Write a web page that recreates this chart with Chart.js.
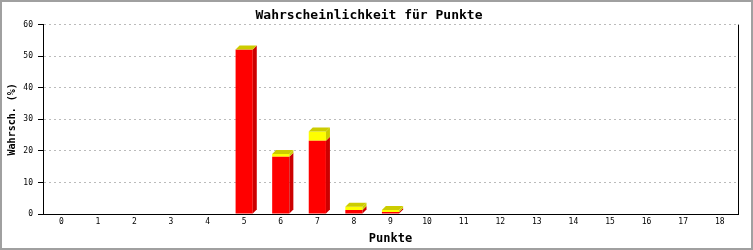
<!DOCTYPE html>
<html>
<head>
<meta charset="utf-8">
<script src="https://cdn.jsdelivr.net/npm/chart.js@4/dist/chart.umd.min.js"></script>
<style>
  html, body { margin: 0; padding: 0; background: #fff; }
  #wrap { width: 753px; height: 250px; position: relative; }
</style>
</head>
<body>
<div id="wrap"><canvas id="pointsChart"></canvas></div>
<script>
// Punkte 0..18
const points = ['0','1','2','3','4','5','6','7','8','9','10','11','12','13','14','15','16','17','18'];
const redValues    = [0, 0, 0, 0, 0, 52.1, 18.1, 23.2, 1.3, 0.6, 0, 0, 0, 0, 0, 0, 0, 0, 0];
const yellowValues = [0, 0, 0, 0, 0, 0,    0.9,  2.9,  1.0, 0.7, 0, 0, 0, 0, 0, 0, 0, 0, 0];
const yTicks = [0, 10, 20, 30, 40, 50, 60];

const mono = '"DejaVu Sans Mono", "Liberation Mono", monospace';
const DEPTH = 4;

// fake 3D: side and top faces next to each stacked bar
const bar3d = {
    id: 'bar3d',
    afterDatasetsDraw(chart) {
        const ctx = chart.ctx;
        const sides = ['#cc0000', '#cccc00'];
        ctx.save();
        chart.data.datasets.forEach((ds, di) => {
            const meta = chart.getDatasetMeta(di);
            meta.data.forEach((bar, i) => {
                if (redValues[i] + yellowValues[i] <= 0) return;
                const p = bar.getProps(['x', 'y', 'base', 'width'], true);
                const left = p.x - p.width / 2;
                const right = p.x + p.width / 2;
                const top = Math.min(p.y, p.base);
                const bottom = Math.max(p.y, p.base);
                if (bottom - top > 0) {
                    ctx.fillStyle = sides[di];
                    ctx.beginPath();
                    ctx.moveTo(right, bottom);
                    ctx.lineTo(right + DEPTH, bottom - DEPTH);
                    ctx.lineTo(right + DEPTH, top - DEPTH);
                    ctx.lineTo(right, top);
                    ctx.closePath();
                    ctx.fill();
                }
                if (di === chart.data.datasets.length - 1) {
                    ctx.fillStyle = '#cccc00';
                    ctx.beginPath();
                    ctx.moveTo(left, top);
                    ctx.lineTo(left + DEPTH, top - DEPTH);
                    ctx.lineTo(right + DEPTH, top - DEPTH);
                    ctx.lineTo(right, top);
                    ctx.closePath();
                    ctx.fill();
                }
            });
        });
        ctx.restore();
    }
};

// right border of plot + grey outer frame
const frame = {
    id: 'frame',
    afterDraw(chart) {
        const { ctx, chartArea } = chart;
        ctx.save();
        ctx.strokeStyle = '#000';
        ctx.lineWidth = 1;
        ctx.beginPath();
        ctx.moveTo(Math.round(chartArea.right) + 0.5, chartArea.top);
        ctx.lineTo(Math.round(chartArea.right) + 0.5, chartArea.bottom);
        ctx.stroke();
        ctx.strokeStyle = '#a0a0a0';
        ctx.lineWidth = 2;
        ctx.strokeRect(1, 1, chart.width - 2, chart.height - 2);
        ctx.restore();
    }
};

new Chart(document.getElementById('pointsChart').getContext('2d'), {
    type: 'bar',
    data: {
        labels: points,
        datasets: [
            { label: 'rot', data: redValues, backgroundColor: '#ff0000', borderWidth: 0 },
            { label: 'gelb', data: yellowValues, backgroundColor: '#ffff00', borderWidth: 0 }
        ]
    },
    options: {
        responsive: true,
        maintainAspectRatio: false,
        animation: false,
        layout: { padding: { left: 0, right: 15, top: 0, bottom: 0 } },
        datasets: { bar: { categoryPercentage: 1, barPercentage: 0.47 } },
        plugins: {
            legend: { display: false },
            tooltip: { enabled: false },
            title: {
                display: true,
                text: 'Wahrscheinlichkeit für Punkte',
                color: '#000',
                font: { family: mono, size: 13, weight: 'bold' },
                padding: { top: 8, bottom: 1 }
            }
        },
        scales: {
            x: {
                stacked: true,
                grid: { display: true, drawOnChartArea: false, drawTicks: false },
                border: { display: true, color: '#000', width: 1 },
                ticks: { color: '#000', font: { family: mono, size: 8 }, padding: 3, autoSkip: false, maxRotation: 0 },
                title: {
                    display: true, text: 'Punkte', color: '#000',
                    font: { family: mono, size: 12, weight: 'bold' },
                    padding: { top: 0, bottom: 4 }
                },
                afterFit(scale) { scale.height = 36; }
            },
            y: {
                stacked: true,
                min: 0,
                max: 60,
                afterBuildTicks(scale) { scale.ticks = yTicks.map(v => ({ value: v })); },
                grid: {
                    color: '#bbbbbb', tickLength: 5,
                    tickColor: '#000', tickBorderDash: [], tickWidth: 1
                },
                border: { display: true, color: '#000', width: 1, dash: [2, 3] },
                ticks: { color: '#000', font: { family: mono, size: 8 }, padding: 5 },
                title: {
                    display: true, text: 'Wahrsch. (%)', color: '#000',
                    font: { family: mono, size: 10, weight: 'bold' },
                    padding: { top: 6, bottom: 0 }
                },
                afterFit(scale) { scale.width = 43; }
            }
        }
    },
    plugins: [bar3d, frame]
});
</script>
</body>
</html>
